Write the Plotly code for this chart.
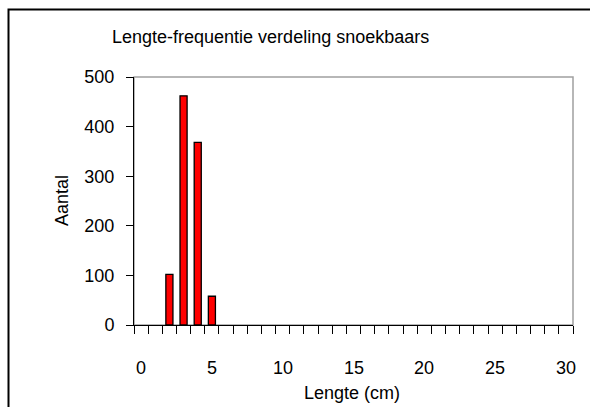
import plotly.graph_objects as go

lengths = list(range(0, 31))
counts = [0, 0, 102, 462, 368, 58] + [0] * 25
x_tick_vals = [0, 5, 10, 15, 20, 25, 30]
y_tick_vals = [0, 100, 200, 300, 400, 500]

title_text = "Lengte-frequentie verdeling snoekbaars"
x_title = "Lengte (cm)"
y_title = "Aantal"

FONT = "Liberation Sans, Arial, sans-serif"
FS = 18

W, H = 590, 407
L, R, T, B = 134, 17, 77, 82
pw, ph = W - L - R, H - T - B


def px_x(px):
    return (px - L) / pw


def px_y(py):
    return (H - B - py) / ph


bar_x = [x for x, c in zip(lengths, counts) if c > 0]
bar_y = [c for c in counts if c > 0]
boundaries = [v - 0.5 for v in range(0, len(lengths) + 1)]

fig = go.Figure()
fig.add_trace(go.Bar(
    x=bar_x, y=bar_y, width=0.5,
    marker=dict(color="#FF0000", line=dict(color="black", width=1.3)),
    showlegend=False,
))

fig.update_layout(
    width=W, height=H,
    margin=dict(l=L, r=R, t=T, b=B),
    paper_bgcolor="white", plot_bgcolor="white",
    font=dict(family=FONT, size=FS, color="black"),
    xaxis=dict(
        range=[-0.5, 30.5], tickmode="array", tickvals=boundaries,
        ticktext=[""] * len(boundaries),
        ticks="outside", ticklen=8, tickcolor="#000000", tickwidth=1,
        showgrid=False, zeroline=False,
        showline=True, linecolor="black", linewidth=1,
    ),
    yaxis=dict(
        range=[0, 500], tickmode="array", tickvals=y_tick_vals,
        ticks="outside", ticklen=7, tickcolor="black", tickwidth=1,
        showgrid=False, zeroline=False,
        showline=True, linecolor="black", linewidth=1,
        ticklabelstandoff=8,
    ),
    shapes=[
        dict(type="rect", xref="x domain", yref="y domain", x0=0, x1=1, y0=0, y1=1,
             line=dict(color="#a0a0a0", width=1.5), layer="below"),
        dict(type="path", xref="paper", yref="paper",
             path=f"M {px_x(8.5)},{px_y(430)} L {px_x(8.5)},{px_y(9.5)} L {px_x(600)},{px_y(9.5)}",
             line=dict(color="black", width=2)),
    ],
    annotations=[
        dict(text=title_text, xref="paper", yref="paper", x=px_x(270), y=px_y(37),
             xanchor="center", yanchor="middle", showarrow=False, font=dict(size=FS)),
        dict(text=x_title, xref="paper", yref="paper", x=px_x(352), y=px_y(393),
             xanchor="center", yanchor="middle", showarrow=False, font=dict(size=FS)),
        dict(text=y_title, xref="paper", yref="paper", x=px_x(62), y=px_y(201),
             xanchor="center", yanchor="middle", showarrow=False, textangle=-90,
             font=dict(size=FS)),
    ] + [
        dict(text=str(v), xref="x", yref="paper", x=v, y=px_y(368),
             xanchor="center", yanchor="middle", showarrow=False, font=dict(size=FS))
        for v in x_tick_vals
    ],
)

fig.write_html("out.html")
